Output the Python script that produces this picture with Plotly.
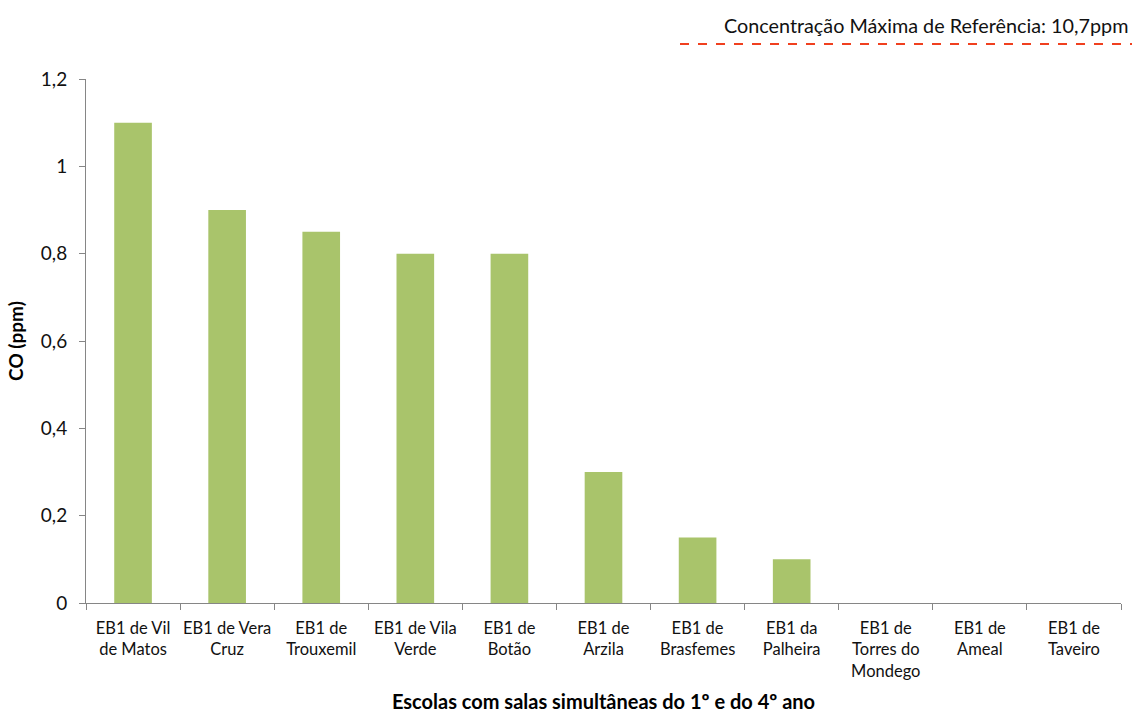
import plotly.graph_objects as go

# Escolas (rótulos do eixo X) e concentração de CO medida (ppm)
escolas = [
    "EB1 de Vil<br>de Matos",
    "EB1 de Vera<br>Cruz",
    "EB1 de<br>Trouxemil",
    "EB1 de Vila<br>Verde",
    "EB1 de<br>Botão",
    "EB1 de<br>Arzila",
    "EB1 de<br>Brasfemes",
    "EB1 da<br>Palheira",
    "EB1 de<br>Torres do<br>Mondego",
    "EB1 de<br>Ameal",
    "EB1 de<br>Taveiro",
]
co_ppm = [1.1, 0.9, 0.85, 0.8, 0.8, 0.3, 0.15, 0.1, 0, 0, 0]

# Valor de referência (fora da escala visível do gráfico)
referencia_ppm = 10.7
referencia_nome = "Concentração Máxima de Referência: 10,7ppm"

y_ticks = [0, 0.2, 0.4, 0.6, 0.8, 1.0, 1.2]

FONT = "Lato, 'Open Sans', sans-serif"
AXIS_GREY = "#868686"
TEXT = "#111111"

fig = go.Figure()

fig.add_trace(go.Bar(
    x=escolas,
    y=co_ppm,
    marker=dict(color="#a9c46b", line=dict(width=0)),
    showlegend=False,
    hoverinfo="x+y",
))

# Linha de referência (acima do intervalo visível do eixo Y)
fig.add_trace(go.Scatter(
    x=[escolas[0], escolas[-1]],
    y=[referencia_ppm, referencia_ppm],
    mode="lines",
    line=dict(color="#f0401f", width=2, dash="dash"),
    showlegend=False,
    cliponaxis=True,
    hoverinfo="skip",
))

# Área do gráfico em píxeis
L, R, T, B = 86, 11, 79, 110
W, H = 1132, 713
plot_w = W - L - R
plot_h = H - T - B


def px_to_paper_x(px):
    return (px - L) / plot_w


def px_to_paper_y(py):
    return (H - B - py) / plot_h


# Legenda da linha de referência: texto e amostra tracejada
fig.add_annotation(
    x=px_to_paper_x(1130), y=px_to_paper_y(25), xref="paper", yref="paper",
    text=referencia_nome, showarrow=False,
    xanchor="right", yanchor="middle",
    font=dict(family=FONT, size=19.8, color=TEXT),
)
fig.add_shape(
    type="line", xref="paper", yref="paper",
    x0=px_to_paper_x(680), x1=px_to_paper_x(1132),
    y0=px_to_paper_y(44), y1=px_to_paper_y(44),
    line=dict(color="#f0401f", width=2, dash="dash"),
)

fig.update_layout(
    width=W, height=H,
    margin=dict(l=L, r=R, t=T, b=B, autoexpand=False),
    paper_bgcolor="white",
    plot_bgcolor="white",
    separators=", ",
    bargap=0.6,
    font=dict(family=FONT, size=16, color=TEXT),
    xaxis=dict(
        type="category",
        automargin=False,
        showline=True, linecolor=AXIS_GREY, linewidth=1,
        ticks="outside", tickson="boundaries", ticklen=6, tickcolor=AXIS_GREY,
        tickangle=0,
        tickfont=dict(family=FONT, size=16.5, color=TEXT),
        ticklabelstandoff=10,
        showgrid=False, zeroline=False,
        title=dict(text="<b>Escolas com salas simultâneas do 1º e do 4º ano</b>",
                   font=dict(family=FONT, size=20, color="#000000"), standoff=21),
        range=[-0.5, len(escolas) - 0.5],
    ),
    yaxis=dict(
        range=[0, 1.2],
        automargin=False,
        tickvals=y_ticks,
        showline=True, linecolor=AXIS_GREY, linewidth=1,
        ticks="outside", ticklen=6, tickcolor=AXIS_GREY,
        tickfont=dict(family=FONT, size=19, color=TEXT),
        ticklabelstandoff=8,
        showgrid=False, zeroline=False,
        title=dict(text="<b>CO (ppm)</b>",
                   font=dict(family=FONT, size=19, color="#000000"), standoff=12),
    ),
)

fig.write_html("out.html")
